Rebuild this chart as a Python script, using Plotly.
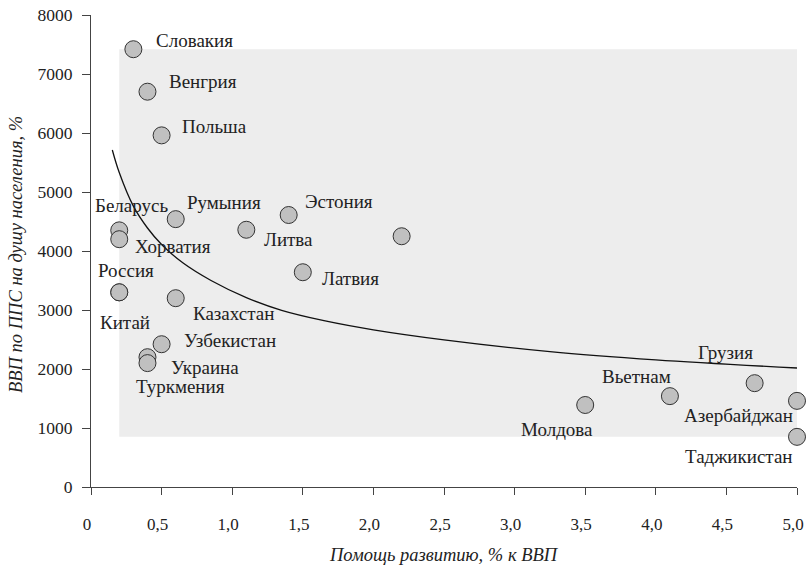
import plotly.graph_objects as go

# ---- data ----
countries = ["Словакия", "Венгрия", "Польша", "Беларусь", "Хорватия", "Румыния",
             "Литва", "Эстония", "", "Латвия", "Россия", "Китай", "Казахстан",
             "Узбекистан", "Туркмения", "Украина", "Молдова", "Вьетнам", "Грузия",
             "Азербайджан", "Таджикистан"]
aid_pct = [0.3, 0.4, 0.5, 0.2, 0.2, 0.6, 1.1, 1.4, 2.2, 1.5, 0.2, 0.2, 0.6,
           0.5, 0.4, 0.4, 3.5, 4.1, 4.7, 5.0, 5.0]
gdp_ppp = [7420, 6700, 5960, 4350, 4200, 4540, 4360, 4610, 4250, 3640, 3300, 3300, 3200,
           2420, 2200, 2100, 1390, 1540, 1760, 1460, 850]

trend_x = [0.151, 0.2, 0.3, 0.4, 0.5, 0.65, 0.85, 1.1, 1.35, 1.65, 2.0, 2.5, 3.25, 4.0, 5.0]
trend_y = [5712, 5330, 4760, 4390, 4110, 3800, 3500, 3210, 2995, 2820, 2665, 2495, 2295, 2155, 2017]

x_ticks = [0, 0.5, 1, 1.5, 2, 2.5, 3, 3.5, 4, 4.5, 5]
x_tick_labels = ["0", "0,5", "1,0", "1,5", "2,0", "2,5", "3,0", "3,5", "4,0", "4,5", "5,0"]
y_ticks = [0, 1000, 2000, 3000, 4000, 5000, 6000, 7000, 8000]
y_tick_labels = ["0", "1000", "2000", "3000", "4000", "5000", "6000", "7000", "8000"]

x_title = "Помощь развитию, % к ВВП"
y_title = "ВВП по ППС на душу населения, %"

# label placement (style): anchor, xshift, yshift (px)
label_pos = {
    "Словакия": ("left", 21, 9),
    "Венгрия": ("left", 20, 10),
    "Польша": ("left", 18, 9),
    "Беларусь": ("center", 12, 25),
    "Хорватия": ("left", 14, -7),
    "Румыния": ("left", 9, 17),
    "Литва": ("left", 16, -10),
    "Эстония": ("left", 14, 14),
    "Латвия": ("left", 17, -6),
    "Россия": ("center", 7, 22),
    "Китай": ("center", 6, -30),
    "Казахстан": ("left", 15, -15),
    "Узбекистан": ("left", 20, 4),
    "Туркмения": ("center", 33, -29),
    "Украина": ("left", 22, -4),
    "Молдова": ("right", 10, -25),
    "Вьетнам": ("right", 3, 20),
    "Грузия": ("right", 0, 31),
    "Азербайджан": ("right", -2, -15),
    "Таджикистан": ("right", -2, -20),
}

FONT = "Liberation Serif"
TXT = "#222222"
AXC = "#444444"

fig = go.Figure()

fig.add_shape(type="rect", xref="x", yref="y",
              x0=min(aid_pct), x1=max(aid_pct), y0=min(gdp_ppp), y1=max(gdp_ppp),
              fillcolor="#ededed", line=dict(width=0), layer="below")

fig.add_trace(go.Scatter(x=trend_x, y=trend_y, mode="lines",
                         line=dict(color="#111111", width=1.3, shape="spline", smoothing=1.0),
                         hoverinfo="skip", showlegend=False))

fig.add_trace(go.Scatter(x=aid_pct, y=gdp_ppp, mode="markers", text=countries,
                         marker=dict(size=17, color="#c0c0c0",
                                     line=dict(color="#333333", width=1)),
                         cliponaxis=False, showlegend=False))

for name, xv, yv in zip(countries, aid_pct, gdp_ppp):
    if name not in label_pos:
        continue
    anc, dx, dy = label_pos[name]
    fig.add_annotation(x=xv, y=yv, xref="x", yref="y", text=name, showarrow=False,
                       xanchor=anc, yanchor="middle", xshift=dx, yshift=dy,
                       font=dict(family=FONT, size=19, color=TXT))

# axis titles as annotations
fig.add_annotation(x=0.5, y=0, xref="paper", yref="paper", text=x_title, showarrow=False,
                   xanchor="center", yanchor="middle", yshift=-68,
                   font=dict(family=FONT, size=18.5, color=TXT, style="italic"))
fig.add_annotation(x=0, y=0.5, xref="paper", yref="paper", text=y_title, showarrow=False,
                   textangle=-90, xanchor="center", yanchor="middle", xshift=-75, yshift=-4,
                   font=dict(family=FONT, size=18.5, color=TXT, style="italic"))

fig.update_layout(
    width=806, height=565,
    margin=dict(l=91, r=9, t=15, b=78),
    plot_bgcolor="white", paper_bgcolor="white",
    font=dict(family=FONT, color=TXT),
    showlegend=False,
)

fig.update_xaxes(range=[0, 5], tickmode="array", tickvals=x_ticks, ticktext=x_tick_labels,
                 showgrid=False, zeroline=False, showline=True, linecolor=AXC, linewidth=1,
                 ticks="outside", ticklen=7, tickcolor=AXC, ticklabelstandoff=15,
                 ticklabelshift=-4,
                 automargin=False, ticklabeloverflow="allow",
                 tickfont=dict(family=FONT, size=17, color=TXT))
fig.update_yaxes(range=[0, 8000], tickmode="array", tickvals=y_ticks, ticktext=y_tick_labels,
                 showgrid=False, zeroline=False, showline=True, linecolor=AXC, linewidth=1,
                 ticks="outside", ticklen=8, tickcolor=AXC, ticklabelstandoff=6,
                 automargin=False, ticklabeloverflow="allow",
                 tickfont=dict(family=FONT, size=17.5, color=TXT))

fig.write_html("out.html", config={"displayModeBar": False},
               post_script="document.body.style.margin='0';document.body.style.overflow='hidden';")
